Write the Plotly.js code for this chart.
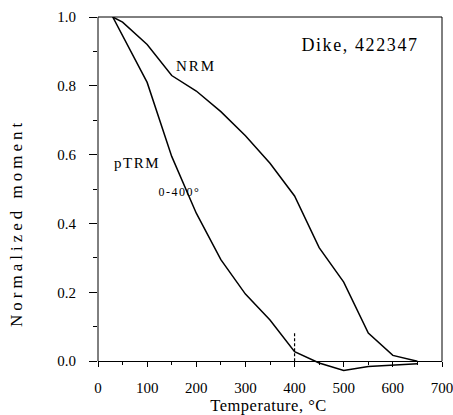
<!DOCTYPE html>
<html>
<head>
<meta charset="utf-8">
<script src="https://cdn.plot.ly/plotly-3.0.1.min.js"></script>
<style>
  html, body { margin: 0; padding: 0; background: #fff; }
  #chart { width: 453px; height: 415px; }
  .annotation[data-index="0"] text { letter-spacing: 4px; }
  .annotation[data-index="1"] text { letter-spacing: 0.5px; }
  .annotation[data-index="2"] text { letter-spacing: 1.6px; }
  .annotation[data-index="3"] text { letter-spacing: 2px; }
  .annotation[data-index="4"] text { letter-spacing: 1.5px; }
  .annotation[data-index="5"] text { letter-spacing: 1.5px; }
</style>
</head>
<body>
<div id="chart"></div>
<script>
// ---- data ----
const nrmTemps  = [30, 50, 100, 150, 200, 250, 300, 350, 400, 450, 500, 550, 600, 650];
const nrmValues = [1.0, 0.985, 0.92, 0.83, 0.785, 0.725, 0.655, 0.575, 0.48, 0.33, 0.23, 0.082, 0.017, 0.0];

const ptrmTemps  = [30, 100, 150, 200, 250, 300, 350, 400, 450, 500, 550, 600, 650];
const ptrmValues = [1.0, 0.81, 0.595, 0.43, 0.295, 0.195, 0.12, 0.028, -0.005, -0.027, -0.015, -0.01, -0.007];

const cutoffTemps  = [400, 400];
const cutoffValues = [0, 0.083];

const xTickVals = [0, 100, 200, 300, 400, 500, 600, 700];
const yTickVals = [0, 0.2, 0.4, 0.6, 0.8, 1.0];

const sampleLabel = 'Dike, 422347';
const xTitle = 'Temperature, °C';
const yTitle = 'Normalized moment';

// ---- chart ----
const FONT = 'Liberation Serif';
const yMin = -0.04, yMax = 1.0;
const y0Paper = (0 - yMin) / (yMax - yMin);

const lineStyle = {color: '#000', width: 1.5};

const traces = [
  {x: nrmTemps, y: nrmValues, mode: 'lines', line: lineStyle, name: 'NRM', hoverinfo: 'skip'},
  {x: ptrmTemps, y: ptrmValues, mode: 'lines', line: lineStyle, name: 'pTRM', hoverinfo: 'skip'},
  {x: cutoffTemps, y: cutoffValues, mode: 'lines', line: {color: '#000', width: 1.2, dash: '3px,2px'}, hoverinfo: 'skip'}
];

const frame = {color: '#000', width: 1};
const layout = {
  width: 453, height: 415,
  margin: {l: 98, r: 11, t: 17, b: 40},
  paper_bgcolor: '#fff', plot_bgcolor: '#fff',
  showlegend: false,
  font: {family: FONT, color: '#000'},
  xaxis: {
    range: [0, 700],
    tickvals: xTickVals,
    ticks: 'outside', ticklen: 5, tickcolor: '#000', tickwidth: 1,
    minor: {dtick: 50, tick0: 0, ticks: 'outside', ticklen: 3, tickcolor: '#000', tickwidth: 1},
    showline: true, linecolor: '#000', linewidth: 1,
    showgrid: false, zeroline: false,
    anchor: 'free', position: y0Paper,
    tickfont: {family: FONT, size: 15, color: '#000'},
    ticklabeloverflow: 'allow',
    ticklabelstandoff: 8
  },
  yaxis: {
    range: [yMin, yMax],
    tickvals: yTickVals,
    tickformat: '.1f',
    ticks: 'outside', ticklen: 8, tickcolor: '#000', tickwidth: 1,
    minor: {tickvals: [0.1, 0.3, 0.5, 0.7, 0.9], ticks: 'outside', ticklen: 4, tickcolor: '#000', tickwidth: 1},
    showline: false, showgrid: false, zeroline: false,
    tickfont: {family: FONT, size: 15, color: '#000'},
    ticklabelstandoff: 10
  },
  shapes: [
    {type: 'line', xref: 'paper', yref: 'paper', x0: 0, x1: 0, y0: y0Paper, y1: 1, line: frame},
    {type: 'line', xref: 'paper', yref: 'paper', x0: 0, x1: 1, y0: 1, y1: 1, line: frame},
    {type: 'line', xref: 'paper', yref: 'paper', x0: 1, x1: 1, y0: y0Paper, y1: 1, line: frame}
  ],
  annotations: [
    {text: yTitle, xref: 'paper', yref: 'paper', x: -0.235, y: 0.425, textangle: -90, showarrow: false,
     xanchor: 'center', yanchor: 'middle', font: {family: FONT, size: 17, color: '#000'}},
    {text: xTitle, xref: 'paper', yref: 'paper', x: 0.497, y: -0.085, showarrow: false,
     xanchor: 'center', yanchor: 'middle', font: {family: FONT, size: 16.5, color: '#000'}},
    {text: sampleLabel, xref: 'x', yref: 'y', x: 533, y: 0.92, showarrow: false,
     xanchor: 'center', yanchor: 'middle', font: {family: FONT, size: 18, color: '#000'}},
    {text: 'NRM', xref: 'x', yref: 'y', x: 200, y: 0.858, showarrow: false,
     xanchor: 'center', yanchor: 'middle', font: {family: FONT, size: 15, color: '#000'}},
    {text: 'pTRM', xref: 'x', yref: 'y', x: 34, y: 0.577, showarrow: false,
     xanchor: 'left', yanchor: 'middle', font: {family: FONT, size: 15, color: '#000'}},
    {text: '0-400°', xref: 'x', yref: 'y', x: 129, y: 0.493, showarrow: false,
     xanchor: 'left', yanchor: 'middle', font: {family: FONT, size: 12, color: '#000'}}
  ]
};

Plotly.newPlot('chart', traces, layout, {staticPlot: true, displayModeBar: false});
</script>
</body>
</html>
